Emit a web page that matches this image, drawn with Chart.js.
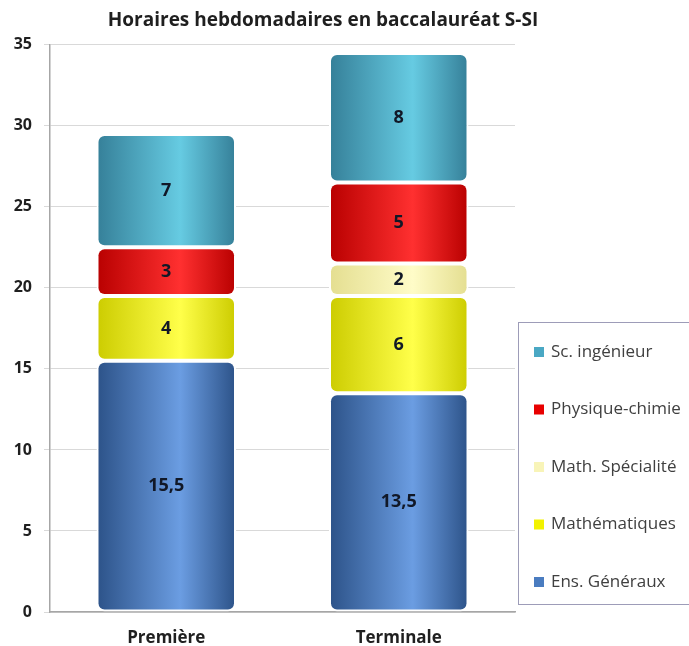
<!DOCTYPE html>
<html>
<head>
<meta charset="utf-8">
<script src="https://cdn.jsdelivr.net/npm/chart.js@4.4.0/dist/chart.umd.min.js"></script>
<style>
  html, body { margin: 0; padding: 0; background: #fff; }
  #wrap { width: 689px; height: 646px; }
</style>
</head>
<body>
<div id="wrap"><canvas id="myChart"></canvas></div>
<script>
var categories = ['Première', 'Terminale'];
var ensGeneraux = [15.5, 13.5];
var mathematiques = [4, 6];
var mathSpecialite = [0, 2];
var physiqueChimie = [3, 5];
var scIngenieur = [7, 8];
var yTicks = [0, 5, 10, 15, 20, 25, 30, 35];

var FONT = '"Open Sans", "Noto Sans", sans-serif';

// edge / highlight colours for the cylinder look
var shades = {
  ens: ['#2c5288', '#6b9de2', '#4a7cc0'],
  math: ['#cccc00', '#ffff4a', '#ecec00'],
  spe: ['#e4de90', '#fffcc8', '#f4efa8'],
  phy: ['#b80000', '#ff3030', '#e80000'],
  sci: ['#357f98', '#66cbe2', '#4aa8c4']
};

function cylinder(shade) {
  return function(c) {
    var chart = c.chart;
    var xs = chart.scales.x;
    if (!xs || !chart.chartArea) return shade[2];
    var cx = xs.getPixelForValue(c.dataIndex);
    var w = (xs.width / categories.length) * 0.6;
    var g = chart.ctx.createLinearGradient(cx - w / 2, 0, cx + w / 2, 0);
    g.addColorStop(0.0, shade[0]);
    g.addColorStop(0.6, shade[1]);
    g.addColorStop(1.0, shade[0]);
    return g;
  };
}

function fmt(v) {
  return String(v).replace('.', ',');
}

var ctx = document.getElementById('myChart').getContext('2d');

var valueLabels = {
  id: 'valueLabels',
  afterDatasetsDraw: function(chart) {
    var c = chart.ctx;
    c.save();
    c.font = 'bold 18px ' + FONT;
    c.fillStyle = '#111827';
    c.textAlign = 'center';
    c.textBaseline = 'middle';
    chart.data.datasets.forEach(function(ds, i) {
      chart.getDatasetMeta(i).data.forEach(function(bar, j) {
        var v = ds.data[j];
        if (!v) return;
        var p = bar.getProps(['x', 'y', 'base'], true);
        c.fillText(fmt(v), p.x, (p.y + p.base) / 2);
      });
    });
    c.restore();
  }
};

var boxedLegend = {
  id: 'boxedLegend',
  afterDraw: function(chart) {
    var c = chart.ctx;
    c.save();
    c.strokeStyle = '#9d9cb8';
    c.lineWidth = 1;
    c.strokeRect(518.5, 322.5, 200, 282);
    c.font = '17px ' + FONT;
    c.textBaseline = 'middle';
    c.textAlign = 'left';
    var ds = chart.data.datasets.slice().reverse();
    ds.forEach(function(d, k) {
      var y = 352 + k * 57.5;
      c.fillStyle = d.legendColor;
      c.fillRect(534, y - 5, 10, 10);
      c.fillStyle = '#404040';
      c.fillText(d.label, 551, y);
    });
    c.restore();
  }
};

var corners = { topLeft: 8, topRight: 8, bottomLeft: 8, bottomRight: 8 };

new Chart(ctx, {
  type: 'bar',
  data: {
    labels: categories,
    datasets: [
      { label: 'Ens. Généraux', data: ensGeneraux, backgroundColor: cylinder(shades.ens), legendColor: '#4a7cc0' },
      { label: 'Mathématiques', data: mathematiques, backgroundColor: cylinder(shades.math), legendColor: '#f2f200' },
      { label: 'Math. Spécialité', data: mathSpecialite, backgroundColor: cylinder(shades.spe), legendColor: '#f8f4b8' },
      { label: 'Physique-chimie', data: physiqueChimie, backgroundColor: cylinder(shades.phy), legendColor: '#e80000' },
      { label: 'Sc. ingénieur', data: scIngenieur, backgroundColor: cylinder(shades.sci), legendColor: '#4aa8c4' }
    ]
  },
  options: {
    responsive: true,
    maintainAspectRatio: false,
    animation: false,
    layout: { padding: { left: 0, right: 43, top: 0, bottom: 0 } },
    datasets: {
      bar: {
        barPercentage: 0.6,
        categoryPercentage: 1,
        borderRadius: corners,
        borderSkipped: false,
        borderWidth: 2,
        borderColor: '#ffffff'
      }
    },
    scales: {
      x: {
        stacked: true,
        grid: { display: false },
        border: { display: true, color: '#a6a6a6', width: 1.5 },
        ticks: { color: '#1f1f1f', font: { family: FONT, size: 17, weight: 'bold' }, padding: 8 },
        afterFit: function(s) { s.height = 34; }
      },
      y: {
        stacked: true,
        min: 0,
        max: 35,
        afterBuildTicks: function(s) { s.ticks = yTicks.map(function(v) { return { value: v }; }); },
        grid: { color: '#d9d9d9', tickLength: 6, tickColor: '#d9d9d9' },
        border: { display: true, color: '#a6a6a6', width: 1.5 },
        ticks: { color: '#1f1f1f', font: { family: FONT, size: 16, weight: 'bold' }, padding: 12 },
        afterFit: function(s) { s.width = 50; }
      },
      spacer: {
        position: 'right',
        display: true,
        grid: { display: false },
        border: { display: false },
        ticks: { display: false },
        afterFit: function(s) { s.width = 131; }
      }
    },
    plugins: {
      legend: { display: false },
      tooltip: { enabled: false },
      title: {
        display: true,
        text: 'Horaires hebdomadaires en baccalauréat S-SI',
        color: '#1f1f1f',
        font: { family: FONT, size: 19, weight: 'bold' },
        padding: { top: 9, bottom: 13 }
      }
    }
  },
  plugins: [valueLabels, boxedLegend]
});
</script>
</body>
</html>
